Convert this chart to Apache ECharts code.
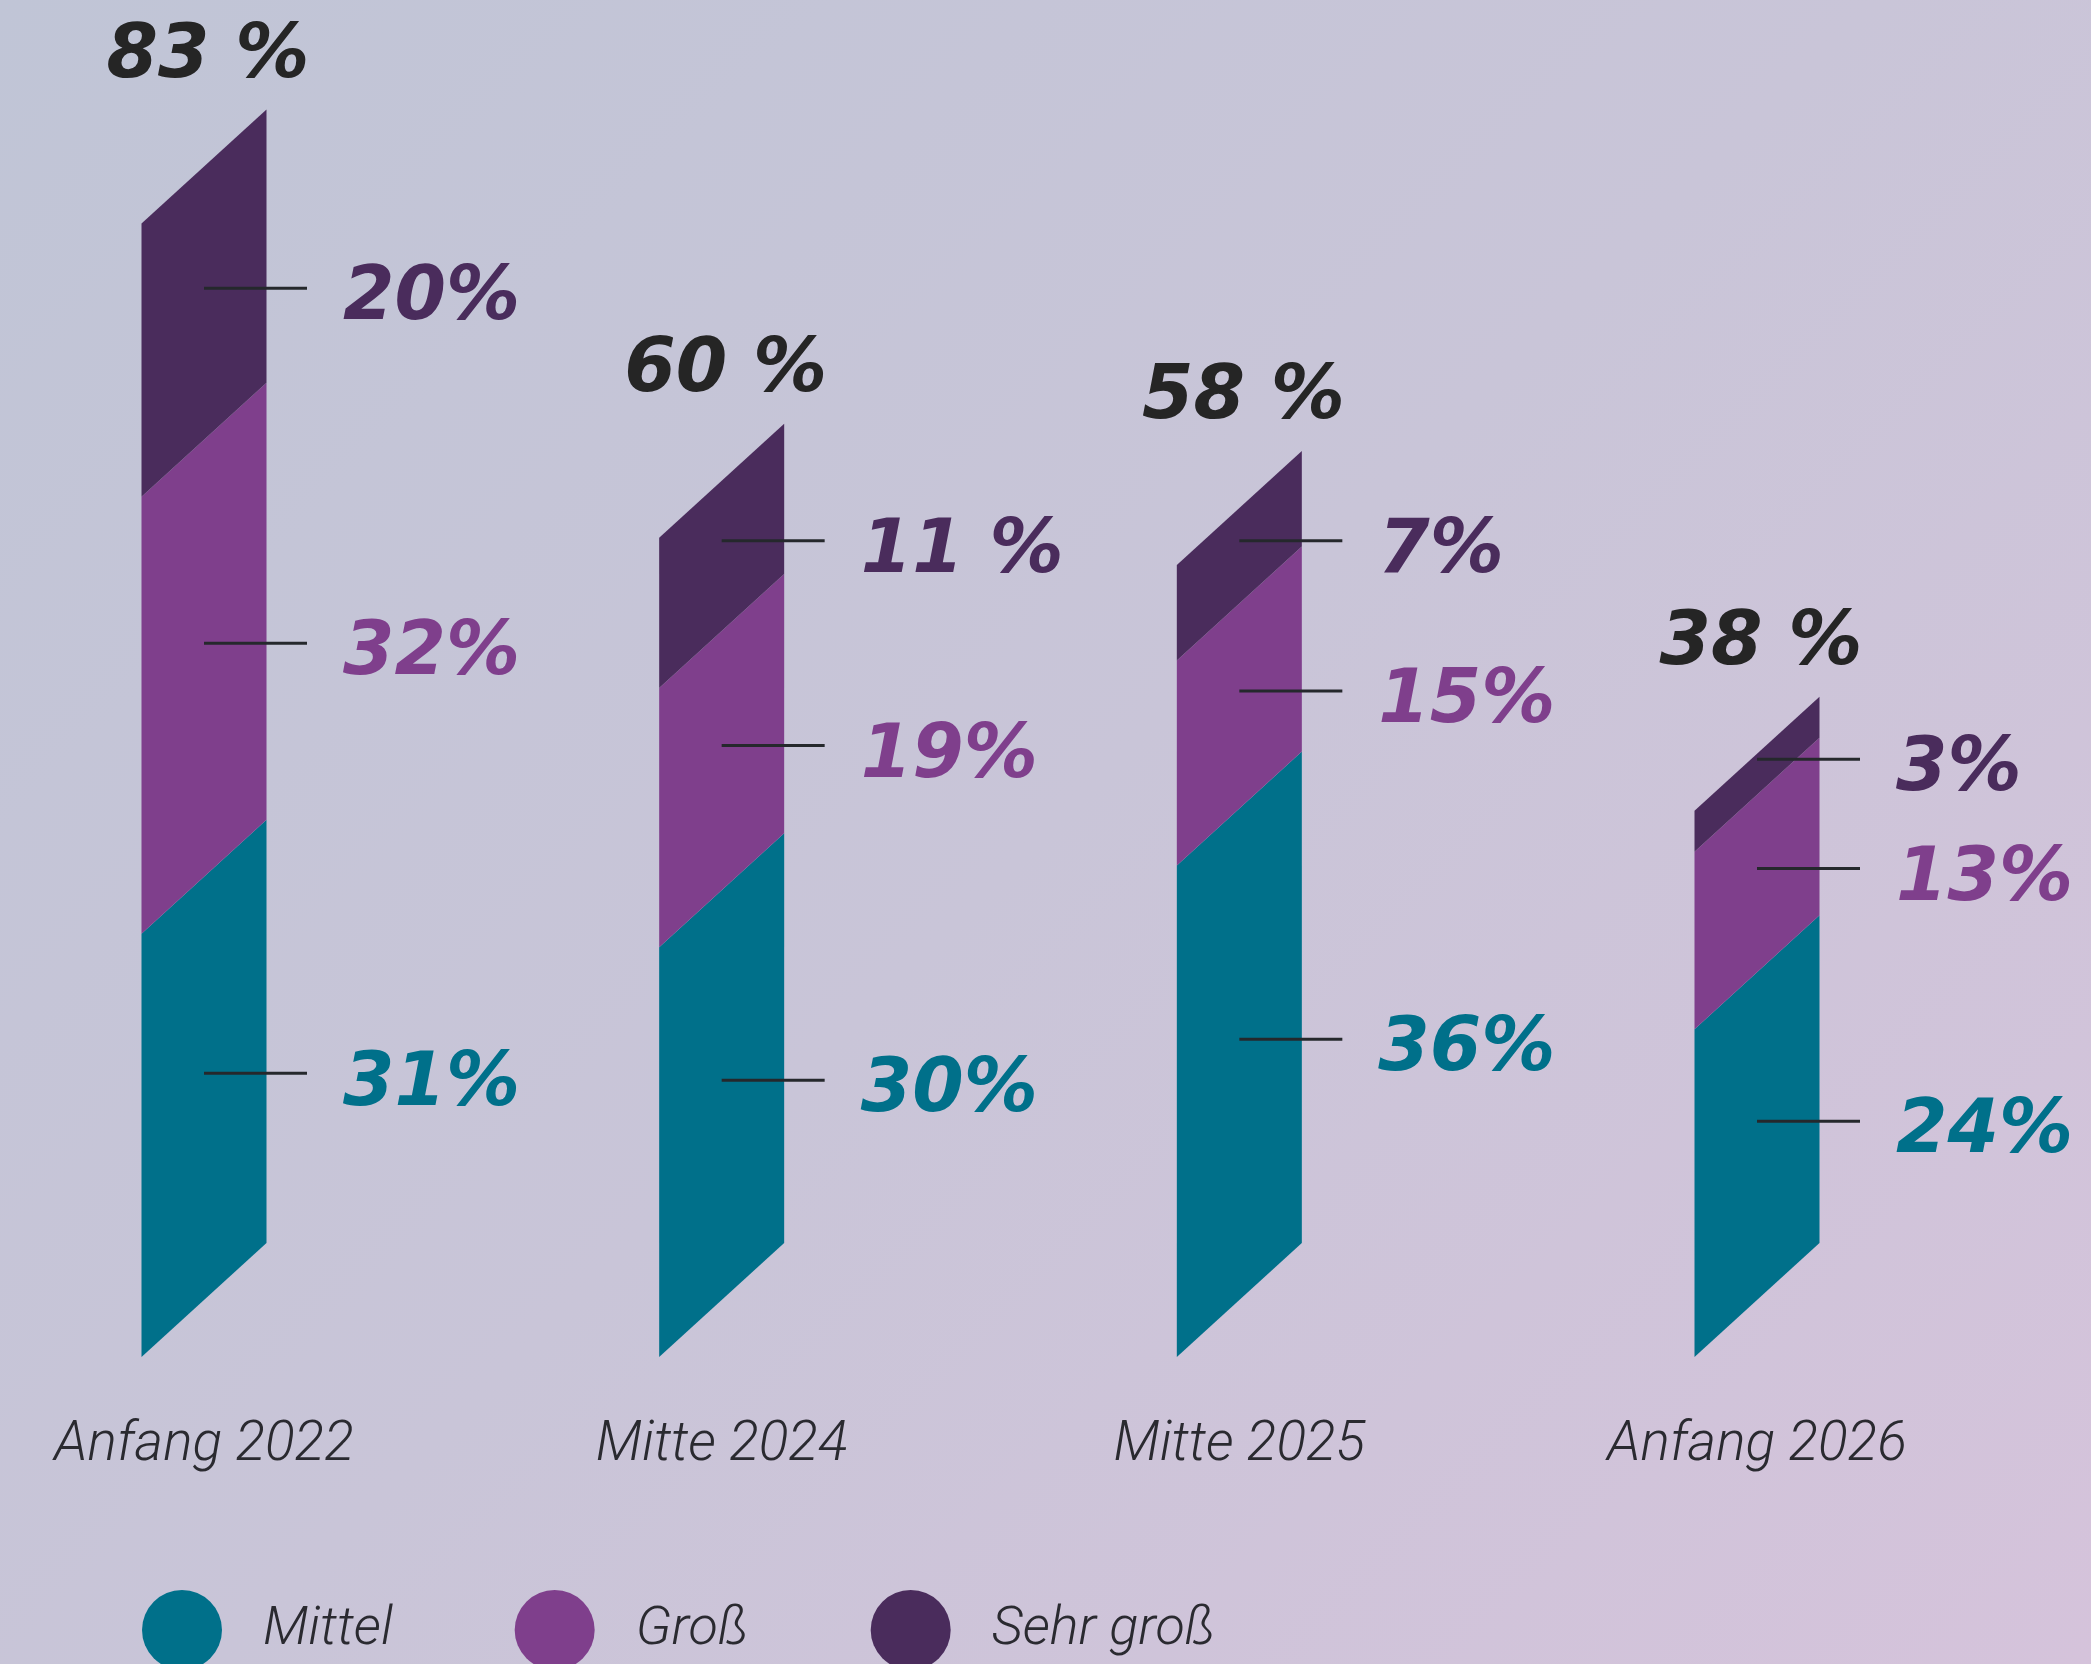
<!DOCTYPE html>
<html>
<head>
<meta charset="utf-8">
<script src="https://cdn.jsdelivr.net/npm/echarts@6/dist/echarts.min.js"></script>
<style>
  html, body { margin: 0; padding: 0; }
  #chart {
    width: 2091px;
    height: 1664px;
    background: linear-gradient(135deg, #c0c5d6 0%, #c9c5d8 50%, #d5c3db 100%);
  }
</style>
</head>
<body>
<div id="chart"></div>
<script>
// data
const categories = ['Anfang 2022', 'Mitte 2024', 'Mitte 2025', 'Anfang 2026'];
const mittel = [31, 30, 36, 24];
const gross = [32, 19, 15, 13];
const sehrGross = [20, 11, 7, 3];
const mittelLabels = ['31%', '30%', '36%', '24%'];
const grossLabels = ['32%', '19%', '15%', '13%'];
const sehrGrossLabels = ['20%', '11 %', '7%', '3%'];
const totalLabels = ['83 %', '60 %', '58 %', '38 %'];

const colors = ['#00708a', '#7f3f8c', '#4a2c5c'];
const names = ['Mittel', 'Groß', 'Sehr groß'];
const halfW = 62.5;   // half bar width (px)
const skew = 114;     // left edge sits lower than right edge (px)
const bigFont = 'italic bold 74px "DejaVu Sans"';

// stack the three parts
const parts = [mittel, gross, sehrGross];
const partLabels = [mittelLabels, grossLabels, sehrGrossLabels];
const segData = [[], [], []];
const labelData = [];
const labelInfo = [];
const topData = [];
categories.forEach(function (c, i) {
  let base = 0;
  parts.forEach(function (arr, k) {
    segData[k].push([i, base, base + arr[i]]);
    labelData.push([i, base, base + arr[i]]);
    labelInfo.push({ text: partLabels[k][i], color: colors[k] });
    base += arr[i];
  });
  topData.push([i, base]);
});

function renderSegment(params, api) {
  const xi = api.value(0);
  const p0 = api.coord([xi, api.value(1)]);
  const p1 = api.coord([xi, api.value(2)]);
  return {
    type: 'polygon',
    shape: {
      points: [
        [p0[0] - halfW, p0[1] + skew],
        [p0[0] + halfW, p0[1]],
        [p1[0] + halfW, p1[1]],
        [p1[0] - halfW, p1[1] + skew]
      ]
    },
    style: { fill: api.visual('color') }
  };
}

function renderLeader(params, api) {
  const xi = api.value(0);
  const p0 = api.coord([xi, api.value(1)]);
  const p1 = api.coord([xi, api.value(2)]);
  const y = (p0[1] + p1[1]) / 2 + 42;
  const info = labelInfo[params.dataIndex];
  return {
    type: 'group',
    children: [
      {
        type: 'line',
        shape: { x1: p0[0], y1: y, x2: p0[0] + 103, y2: y },
        style: { stroke: '#25282c', lineWidth: 3 }
      },
      {
        type: 'text',
        style: {
          x: p0[0] + 139, y: y + 12,
          text: info.text, fill: info.color, font: bigFont,
          textAlign: 'left', textVerticalAlign: 'middle'
        }
      }
    ]
  };
}

function renderTotal(params, api) {
  const xi = api.value(0);
  const p = api.coord([xi, api.value(1)]);
  return {
    type: 'text',
    style: {
      x: p[0] + 4, y: p[1] - 52,
      text: totalLabels[params.dataIndex], fill: '#252525', font: bigFont,
      textAlign: 'center', textVerticalAlign: 'middle'
    }
  };
}

const chart = echarts.init(document.getElementById('chart'), null, { renderer: 'canvas' });

const series = segData.map(function (d, k) {
  return {
    name: names[k],
    type: 'custom',
    renderItem: renderSegment,
    itemStyle: { color: colors[k] },
    encode: { x: 0, y: [1, 2] },
    data: d,
    z: 2
  };
});
series.push({
  type: 'custom',
  renderItem: renderLeader,
  encode: { x: 0, y: [1, 2] },
  data: labelData,
  z: 5
});
series.push({
  type: 'custom',
  renderItem: renderTotal,
  encode: { x: 0, y: 1 },
  data: topData,
  z: 5
});

chart.setOption({
  animation: false,
  backgroundColor: 'transparent',
  grid: { left: 204, right: 334, top: 14, bottom: 421 },
  xAxis: {
    type: 'category',
    data: categories,
    boundaryGap: false,
    axisLine: { show: false },
    axisTick: { show: false },
    splitLine: { show: false },
    axisLabel: {
      margin: 176,
      color: '#2a2a30',
      fontFamily: 'Roboto',
      fontStyle: 'italic',
      fontWeight: 300,
      fontSize: 55
    }
  },
  yAxis: {
    type: 'value',
    min: 0,
    max: 90,
    show: false
  },
  legend: {
    data: names,
    icon: 'circle',
    left: 137,
    top: 1585,
    itemWidth: 80,
    itemHeight: 80,
    itemGap: 122,
    selectedMode: false,
    textStyle: {
      color: '#2a2a30',
      fontFamily: 'Roboto',
      fontStyle: 'italic',
      fontWeight: 300,
      fontSize: 54,
      padding: [12, 0, 0, 36]
    }
  },
  series: series
});
</script>
</body>
</html>
